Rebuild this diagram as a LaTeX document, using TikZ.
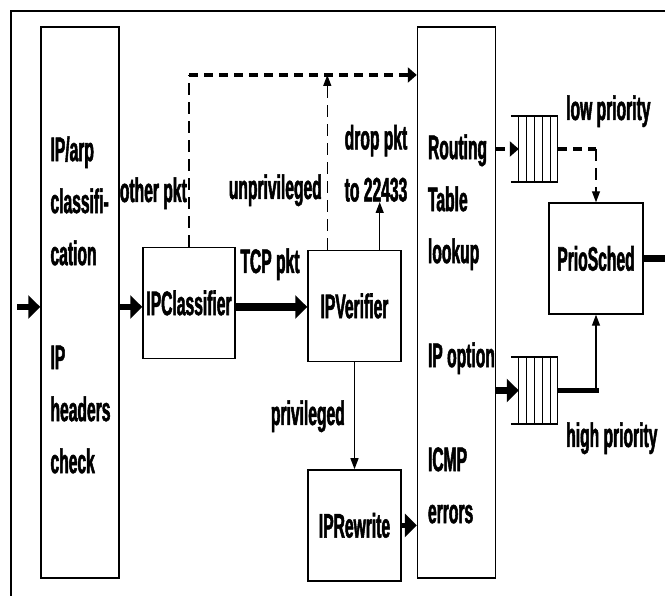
\documentclass[tikz,border=0pt]{standalone}
\usepackage{fontspec}
\newfontfamily\narrowsans{Liberation Sans}[FakeStretch=0.46, BoldFeatures={FakeBold=1.5}]
\usetikzlibrary{positioning, arrows.meta}

\begin{document}
\begin{tikzpicture}[x=1pt, y=1pt,
    txt/.style={font=\narrowsans\bfseries\fontsize{34}{52}\selectfont},
    box/.style={txt, rectangle, draw, line width=1.4pt, inner sep=0pt,
                minimum width=93pt, minimum height=111pt, align=center},
    tall/.style={rectangle, draw, line width=1.4pt, minimum width=78pt,
                minimum height=551pt},
    queue/.style={rectangle, inner sep=0pt, minimum width=39pt, minimum height=66pt},
    lbl/.style={txt, inner sep=0pt},
    fatarrow/.style={-{Triangle[length=12pt, width=23pt]}, line width=6.5pt},
    thinarrow/.style={-{Triangle[length=11pt, width=8pt]}, line width=1.3pt},
    thindash/.style={line width=1.3pt, dash pattern=on 12pt off 7pt},
    fatdash/.style={line width=4pt, dash pattern=on 9pt off 6pt,
                -{Triangle[length=9pt, width=15pt]}}
  ]
  \useasboundingbox (0,0) rectangle (665,596);
  % page frame
  \draw[line width=1.3pt] (11,-5) |- (670,585);

  % tall stages
  \node[tall] (lbox) at (80,293.5) {};
  \node[tall] (rbox) at (456.5,293.5) {};
  \node[lbl, align=left, anchor=north west] (lboxtext)
    at ([xshift=10pt, yshift=-110pt]lbox.north west)
    {IP/arp\\classifi-\\cation\\[52pt]IP\\headers\\check};
  \node[lbl, align=left, anchor=north west] (rboxtext)
    at ([xshift=11pt, yshift=-108pt]rbox.north west)
    {Routing\\Table\\lookup\\[52pt]IP option\\[52pt]ICMP\\errors};

  % elements
  \node[box, minimum width=92pt] (ipc) at (189,293) {IPClassifier};
  \node[box] (ipv) at (354.5,290) {IPVerifier};
  \node[box] (ipr) [below=107pt of ipv] {IPRewrite};
  \node[box, minimum width=94pt] (prio) at (596,337.5) {PrioSched};

  % queues
  \node[queue] (lowq) at (538.5,447) {};
  \node[queue, minimum height=67pt] (highq) at (538.5,205.5) {};
  \foreach \q in {lowq, highq} {
    \draw[line width=1.5pt] ([xshift=-8pt]\q.north west) -- (\q.north east)
                            ([xshift=-8pt]\q.south west) -- (\q.south east);
    \foreach \i in {0,...,5}
      \draw[line width=0.9pt] ([xshift=\i*7.8pt]\q.north west)
                           -- ([xshift=\i*7.8pt]\q.south west);
  }

  % labels
  \node[lbl, anchor=base east] (otherlbl) at (187,394) {other pkt};
  \node[lbl, anchor=base east] (unprivlbl) at (322,397) {unprivileged};
  \node[lbl, align=center, anchor=south] (drop) at (376,394) {drop pkt\\to 22433};
  \node[lbl, anchor=base] (tcplbl) at (270,323) {TCP pkt};
  \node[lbl, anchor=base east] (privlbl) at (345,171) {privileged};
  \node[lbl, anchor=base west] (lowlbl) at (566,476) {low priority};
  \node[lbl, anchor=base west] (highlbl) at (566,149) {high priority};

  % helper points
  \coordinate (in) at (17,289);
  \coordinate (out) at (680,337.5);
  \coordinate (otc) at (ipc.north |- 0,521);
  \coordinate (unp) at ([xshift=20pt]ipv.north west);
  \coordinate (dropfoot) at ([xshift=-22pt]ipv.north east);
  \coordinate (lc) at (prio.north |- lowq.east);
  \coordinate (hc) at (prio.south |- highq.east);

  % connections
  \draw[fatarrow] (in) -- (in -| lbox.west);
  \draw[fatarrow] (in -| lbox.east) -- (in -| ipc.west);
  \draw[fatarrow, line width=7.5pt] (in -| ipc.east) -- (in -| ipv.west);
  \draw[thindash] (ipc.north) -- (otc);
  \draw[fatdash] (otc) -- (otc -| rbox.west);
  \draw[thindash, -{Triangle[length=11pt, width=8pt]}] (unp) -- (unp |- otc);
  \draw[thinarrow] (dropfoot) -- (dropfoot |- drop.south);
  \draw[thinarrow] (ipv) -- (ipr);
  \draw[fatarrow, line width=5pt] (ipr.east) -- (ipr.east -| rbox.west);
  \draw[fatdash] (lowq.west -| rbox.east) -- (lowq.west);
  \draw[fatdash, -] (lowq.east) -- (lc);
  \draw[thindash, -{Triangle[length=11pt, width=8pt]}] (lc) -- (prio.north);
  \draw[fatarrow] (highq.west -| rbox.east) -- (highq.west);
  \draw[line width=5pt] (highq.east) -- ([xshift=2.5pt]hc);
  \draw[thinarrow] (hc) -- (prio.south);
  \draw[fatarrow] (prio.east) -- (out);
\end{tikzpicture}
\end{document}
